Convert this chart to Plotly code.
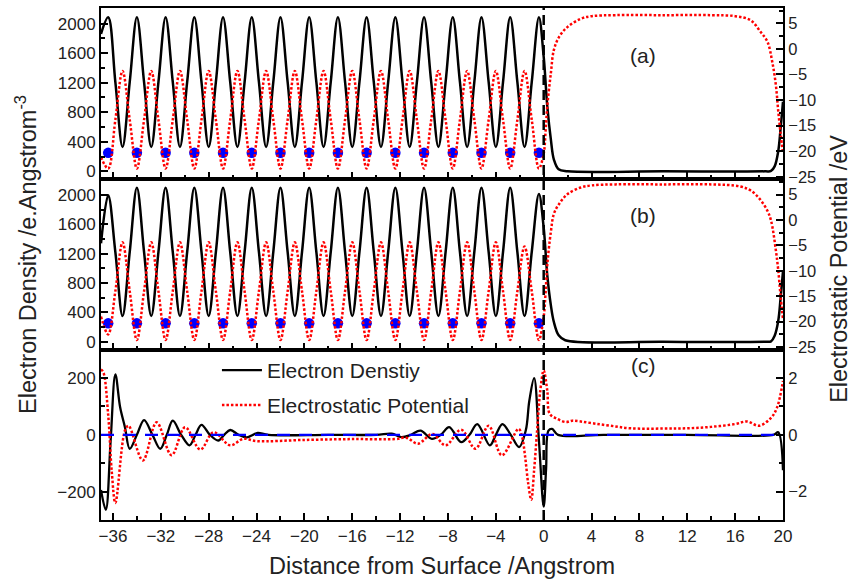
import plotly.graph_objects as go

# ---------------- data ----------------
# shared sampling positions inside the slab (Angstrom)
x_slab = [-37.0, -36.4, -35.8, -35.2, -34.6, -34.0, -33.4, -32.8, -32.2, -31.6,
          -31.0, -30.4, -29.8, -29.2, -28.6, -28.0, -27.4, -26.8, -26.2, -25.6,
          -25.0, -24.4, -23.8, -23.2, -22.6, -22.0, -21.4, -20.8, -20.2, -19.6,
          -19.0, -18.4, -17.8, -17.2, -16.6, -16.0, -15.4, -14.8, -14.2, -13.6,
          -13.0, -12.4, -11.8, -11.2, -10.6, -10.0, -9.4, -8.8, -8.2, -7.6,
          -7.0, -6.4, -5.8, -5.2, -4.6, -4.0, -3.4, -2.8, -2.2, -1.6,
          -1.0, -0.4]

# panel (a)
dens_a_slab = [1860, 2085, 1207, 330, 1207, 2085, 1207, 330, 1207, 2085,
               1207, 330, 1207, 2085, 1207, 330, 1207, 2085, 1207, 330,
               1207, 2085, 1207, 330, 1207, 2085, 1207, 330, 1207, 2085,
               1207, 330, 1207, 2085, 1207, 330, 1207, 2085, 1207, 330,
               1207, 2085, 1207, 330, 1207, 2085, 1207, 330, 1207, 2085,
               1207, 330, 1207, 2085, 1207, 330, 1207, 2085, 1207, 330,
               1207, 2085]
pot_a_slab = [-21.2, -23.4, -13.85, -4.3, -13.85, -23.4, -13.85, -4.3, -13.85, -23.4,
              -13.85, -4.3, -13.85, -23.4, -13.85, -4.3, -13.85, -23.4, -13.85, -4.3,
              -13.85, -23.4, -13.85, -4.3, -13.85, -23.4, -13.85, -4.3, -13.85, -23.4,
              -13.85, -4.3, -13.85, -23.4, -13.85, -4.3, -13.85, -23.4, -13.85, -4.3,
              -13.85, -23.4, -13.85, -4.3, -13.85, -23.4, -13.85, -4.3, -13.85, -23.4,
              -13.85, -4.3, -13.85, -23.4, -13.85, -4.3, -13.85, -23.4, -13.85, -4.3,
              -13.85, -23.4]
dens_a_vac_x = [0.0, 0.3, 0.6, 0.85, 1.25, 2.0, 10.0, 18.5, 19.0, 19.3, 19.6, 19.8, 20.0]
dens_a_vac = [1550, 880, 430, 160, 27, 0, 0, 0, 5, 67, 270, 584, 943]
pot_a_vac_x = [0.0, 0.15, 0.3, 0.6, 0.85, 1.3, 2.0, 3.1, 4.0, 6.0, 10.0, 14.0, 16.0,
               17.3, 18.1, 18.7, 19.1, 19.4, 19.6, 19.8, 20.0]
pot_a_vac = [-20.5, -16.3, -11.2, -4.7, -0.2, 2.4, 4.3, 5.9, 6.4, 6.6, 6.6, 6.6, 6.4,
             5.6, 3.4, 1.4, -2.5, -7.0, -12.1, -16.6, -20.5]

# panel (b)
dens_b_slab = [1340, 1995, 1220, 350, 1220, 2095, 1220, 350, 1220, 2095,
               1220, 350, 1220, 2095, 1220, 350, 1220, 2095, 1220, 350,
               1220, 2095, 1220, 350, 1220, 2095, 1220, 350, 1220, 2095,
               1220, 350, 1220, 2095, 1220, 350, 1220, 2095, 1220, 350,
               1220, 2095, 1220, 350, 1220, 2095, 1220, 350, 1220, 2095,
               1220, 350, 1220, 2095, 1220, 350, 1220, 2095, 1220, 350,
               1220, 2010]
pot_b_slab = [-19.0, -22.5, -14.0, -4.4, -14.0, -23.6, -14.0, -4.4, -14.0, -23.6,
              -14.0, -4.4, -14.0, -23.6, -14.0, -4.4, -14.0, -23.6, -14.0, -4.4,
              -14.0, -23.6, -14.0, -4.4, -14.0, -23.6, -14.0, -4.4, -14.0, -23.6,
              -14.0, -4.4, -14.0, -23.6, -14.0, -4.4, -14.0, -23.6, -14.0, -4.4,
              -14.0, -23.6, -14.0, -4.4, -14.0, -23.6, -14.0, -4.4, -14.0, -23.6,
              -14.0, -4.4, -14.0, -23.6, -14.0, -4.4, -14.0, -23.6, -14.0, -5.2,
              -14.0, -23.6]
dens_b_vac_x = [0.0, 0.3, 0.6, 0.85, 1.25, 1.8, 10.0, 18.5, 19.0, 19.3, 19.6, 19.8, 20.0]
dens_b_vac = [1550, 902, 494, 268, 87, 20, 0, 0, 5, 81, 283, 597, 957]
pot_b_vac_x = [0.0, 0.15, 0.3, 0.6, 0.85, 1.3, 2.0, 3.1, 4.0, 6.0, 10.0, 14.0, 16.4,
               17.3, 18.1, 18.7, 19.0, 19.4, 19.6, 19.8, 20.0]
pot_b_vac = [-19.0, -14.5, -8.8, -2.3, 1.2, 3.2, 5.1, 6.4, 6.8, 7.0, 7.0, 7.0, 6.6,
             5.8, 4.0, 1.8, -0.1, -5.9, -9.8, -15.0, -19.5]

# atom positions (blue dots)
atom_x = [-36.4, -34.0, -31.6, -29.2, -26.8, -24.4, -22.0, -19.6, -17.2, -14.8,
          -12.4, -10.0, -7.6, -5.2, -2.8, -0.4]
atom_y = [250, 250, 250, 250, 250, 250, 250, 250, 250, 250, 250, 250, 250, 250, 250, 250]

# panel (c) differences
c_dens_x = [-37.0, -36.6, -36.2, -35.8, -35.4, -35.0, -34.6, -34.0, -33.4, -32.7,
            -32.05, -31.5, -31.0, -30.3, -29.6, -29.1, -28.6, -27.9, -27.2, -26.7,
            -26.2, -25.5, -24.8, -24.3, -23.9, -23.0, -18.0, -14.0, -12.7, -11.9,
            -11.1, -10.3, -9.35, -8.6, -7.9, -6.9, -6.2, -5.55, -4.5, -4.0,
            -3.45, -2.75, -2.05, -1.5, -1.2, -0.8, -0.4, 0.0, 0.2, 0.4,
            0.7, 1.2, 5.0, 12.0, 19.2, 19.6, 20.0]
c_dens_y = [-194, -264, -25, 213, 97, 27, -49, 0, 52, 0,
            -49, 0, 50, 0, -37, 0, 35, 0, -20, 0,
            17, 0, -9, 0, 7, 0, 0, 0, 4, -8,
            0, 15, -14, 0, 27, -26, 0, 38, -37, 0,
            38, 0, -43, 15, 120, 200, -20, -253, -120, 15,
            21, 0, 0, 0, 0, 9, -125]
c_pot_x = [-37.0, -36.8, -36.4, -36.1, -35.8, -35.0, -34.7, -33.5, -32.35, -31.1,
           -29.97, -28.7, -27.6, -26.2, -25.1, -24.0, -20.0, -16.0, -12.4, -11.5,
           -10.5, -9.3, -8.2, -6.9, -5.7, -4.6, -3.5, -2.1, -1.8, -1.55,
           -1.3, -1.04, -0.8, -0.55, -0.3, 0.0, 0.3, 0.5, 1.1, 1.85,
           2.4, 3.1, 4.2, 5.6, 7.25, 10.0, 12.0, 14.0, 16.0, 17.0,
           18.0, 19.0, 19.5, 20.0]
c_pot_y = [2.3, 2.2, 0.7, -1.3, -2.4, 0.15, 0.32, -0.9, 0.44, -0.72,
           0.27, -0.52, 0.09, -0.37, -0.14, -0.22, -0.18, -0.15, -0.15, -0.1,
           -0.31, 0.03, -0.37, 0.18, -0.49, 0.32, -0.72, 0.21, -0.08, -0.78,
           -1.7, -2.29, -1.24, 0.15, 1.5, 2.27, 1.55, 0.74, 0.57, 0.45,
           0.5, 0.47, 0.4, 0.32, 0.23, 0.22, 0.23, 0.28, 0.38, 0.47,
           0.32, 0.6, 0.96, 1.9]

x_ticks = [-36, -32, -28, -24, -20, -16, -12, -8, -4, 0, 4, 8, 12, 16, 20]
panel_labels = ["(a)", "(b)", "(c)"]
legend_names = ["Electron Denstiy", "Electrostatic Potential"]

# ---------------- figure ----------------
FONT = "Liberation Sans, Arial, sans-serif"
BLACK_W = 2.5
RED_DASH = "2.5px,2px"

fig = go.Figure()

def add_panel(xa, yl, yr, dens_slab, dens_vx, dens_v, pot_slab, pot_vx, pot_v):
    fig.add_trace(go.Scatter(x=x_slab + dens_vx, y=dens_slab + dens_v, mode="lines",
                             line=dict(color="black", width=BLACK_W, shape="spline", smoothing=1),
                             xaxis=xa, yaxis=yl, showlegend=False, hoverinfo="skip"))
    fig.add_trace(go.Scatter(x=x_slab + pot_vx, y=pot_slab + pot_v, mode="lines",
                             line=dict(color="#ff0000", width=2.5, dash=RED_DASH, shape="spline", smoothing=1),
                             xaxis=xa, yaxis=yr, showlegend=False, hoverinfo="skip"))
    fig.add_trace(go.Scatter(x=atom_x, y=atom_y, mode="markers",
                             marker=dict(color="#0000ff", size=10.5),
                             xaxis=xa, yaxis=yl, showlegend=False, hoverinfo="skip"))

add_panel("x3", "y5", "y6", dens_a_slab, dens_a_vac_x, dens_a_vac, pot_a_slab, pot_a_vac_x, pot_a_vac)
add_panel("x2", "y3", "y4", dens_b_slab, dens_b_vac_x, dens_b_vac, pot_b_slab, pot_b_vac_x, pot_b_vac)

fig.add_trace(go.Scatter(x=c_dens_x, y=c_dens_y, mode="lines", name=legend_names[0],
                         line=dict(color="black", width=2.3, shape="spline", smoothing=1),
                         xaxis="x", yaxis="y", legend="legend", hoverinfo="skip"))
fig.add_trace(go.Scatter(x=c_pot_x, y=c_pot_y, mode="lines", name=legend_names[1],
                         line=dict(color="#ff0000", width=2.5, dash=RED_DASH, shape="spline", smoothing=1),
                         xaxis="x", yaxis="y2", legend="legend2", hoverinfo="skip"))

tickfont = dict(family=FONT, size=17, color="#222")
tickfont_r = dict(family=FONT, size=16.5, color="#222")

def xaxis(anchor, labels):
    return dict(domain=[0, 1], anchor=anchor, range=[-37, 20], tickvals=x_ticks,
                showticklabels=labels, ticks="inside", ticklen=7, tickwidth=2, tickcolor="black",
                minor=dict(ticks="inside", dtick=2, tick0=0, ticklen=4, tickwidth=2, tickcolor="black"),
                showline=True, linewidth=2, linecolor="black", mirror=True,
                showgrid=False, zeroline=False, tickfont=tickfont)

def yaxis(domain, anchor, rng, dtick, minor, side="left", overlay=None):
    d = dict(anchor=anchor, range=rng, dtick=dtick, tick0=0, side=side,
             ticks="inside", ticklen=7, tickwidth=2, tickcolor="black",
             minor=dict(ticks="inside", dtick=minor, tick0=0, ticklen=4, tickwidth=2, tickcolor="black"),
             showline=True, linewidth=2, linecolor="black",
             showgrid=False, zeroline=False,
             tickfont=tickfont_r if side == "right" else tickfont)
    if overlay:
        d["overlaying"] = overlay
    else:
        d["domain"] = domain
    return d

dc = [0, 0.3327]
db = [0.3327, 0.6654]
da = [0.6654, 1.0]

fig.update_layout(
    width=851, height=583,
    margin=dict(l=101, r=68, t=6, b=63),
    paper_bgcolor="white", plot_bgcolor="white",
    font=dict(family=FONT, color="#222"),
    xaxis=xaxis("y", True),
    xaxis2={**xaxis("y3", False), "matches": "x"},
    xaxis3={**xaxis("y5", False), "matches": "x"},
    yaxis=yaxis(dc, "x", [-300, 300], 200, 100),
    yaxis2=yaxis(dc, "x", [-3, 3], 2, 1, side="right", overlay="y"),
    yaxis3=yaxis(db, "x2", [-108, 2211], 400, 200),
    yaxis4=yaxis(db, "x2", [-25.5, 8.0], 5, 2.5, side="right", overlay="y3"),
    yaxis5=yaxis(da, "x3", [-108, 2211], 400, 200),
    yaxis6=yaxis(da, "x3", [-25.5, 8.0], 5, 2.5, side="right", overlay="y5"),
    legend=dict(x=0.17, y=0.292, xanchor="left", yanchor="middle", bgcolor="rgba(0,0,0,0)",
                font=dict(family=FONT, size=21, color="#222"), itemwidth=40),
    legend2=dict(x=0.17, y=0.224, xanchor="left", yanchor="middle", bgcolor="rgba(0,0,0,0)",
                 font=dict(family=FONT, size=21, color="#222"), itemwidth=40),
    shapes=[
        dict(type="line", xref="x", yref="y", x0=-37, x1=20, y0=0, y1=0,
             line=dict(color="#0000ff", width=2.2, dash="13px,9px"), layer="above"),
        dict(type="line", xref="x", yref="paper", x0=0, x1=0, y0=0, y1=1,
             line=dict(color="black", width=2.5, dash="10px,5px"), layer="above"),
    ],
    annotations=[
        dict(text=panel_labels[0], x=0.817, y=0.934, xref="paper", yref="paper", showarrow=False,
             font=dict(family=FONT, size=21, color="#222")),
        dict(text=panel_labels[1], x=0.817, y=0.595, xref="paper", yref="paper", showarrow=False,
             font=dict(family=FONT, size=21, color="#222")),
        dict(text=panel_labels[2], x=0.817, y=0.276, xref="paper", yref="paper", showarrow=False,
             font=dict(family=FONT, size=21, color="#222")),
        dict(text="Distance from Surface /Angstrom", x=0.5, y=-0.0905, xref="paper", yref="paper",
             showarrow=False, xanchor="center", yanchor="middle",
             font=dict(family=FONT, size=23.5, color="#222")),
        dict(text="Electron Density /e.Angstrom<sup>-3</sup>", x=-0.109, y=0.519, xref="paper", yref="paper",
             showarrow=False, textangle=-90, xanchor="center", yanchor="middle",
             font=dict(family=FONT, size=23.5, color="#222")),
        dict(text="Electrostatic Potential /eV", x=1.081, y=0.491, xref="paper", yref="paper",
             showarrow=False, textangle=-90, xanchor="center", yanchor="middle",
             font=dict(family=FONT, size=23.5, color="#222")),
    ],
)

fig.write_html("out.html")
